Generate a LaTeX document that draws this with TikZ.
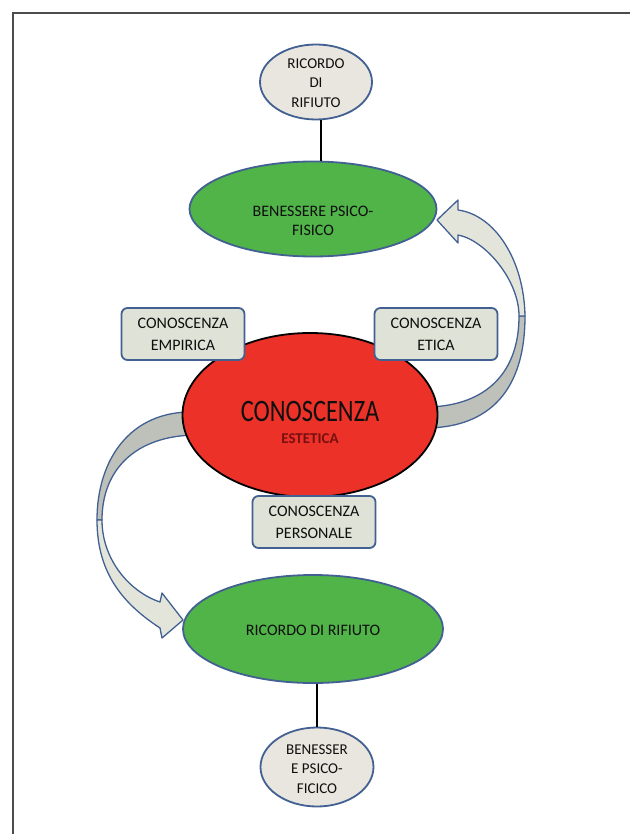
\documentclass[tikz,border=0pt]{standalone}
\usepackage{fontspec}
\setmainfont{Carlito}
\usetikzlibrary{shapes.geometric}
\definecolor{bordo}{RGB}{66,96,146}
\definecolor{verde}{RGB}{80,180,72}
\definecolor{rosso}{RGB}{236,50,40}
\definecolor{rossoscuro}{RGB}{120,16,16}
\definecolor{grigio}{RGB}{232,230,222}
\definecolor{scatola}{RGB}{223,226,214}
\definecolor{nastro}{RGB}{190,192,186}
\definecolor{nastrochiaro}{RGB}{228,229,218}
\definecolor{inchiostro}{RGB}{15,15,15}
\begin{document}
\begin{tikzpicture}[x=1pt,y=-1pt,
  ovale/.style={ellipse,draw=bordo,line width=1.8pt,inner sep=0pt},
  scatolina/.style={rectangle,rounded corners=6pt,draw=bordo,line width=1.8pt,fill=scatola,
    minimum width=123pt,minimum height=52pt,inner sep=0pt,align=center,text=inchiostro,
    font=\fontsize{16}{22}\selectfont},
  scritta/.style={align=center,text=inchiostro,inner sep=0pt,font=\fontsize{16}{19}\selectfont},
  piccola/.style={scritta,font=\fontsize{15}{19.5}\selectfont},
  freccia/.style={draw=bordo,line width=1.3pt,line join=round},
  legame/.style={line width=2.5pt,black}]
\useasboundingbox (0,0) rectangle (630,834);
\draw[line width=1.6pt,black!70] (630,13) -- (13,13) -- (13,834);
% curved arrows
\filldraw[freccia,fill=nastro] (425,428) .. controls (480,428) and (525,400) .. (525,316)
  -- (519,316) .. controls (519,378) and (480,407) .. (425,407) -- cycle;
\filldraw[freccia,fill=nastrochiaro] (525,316) .. controls (524,260) and (495,215) .. (458,210)
  -- (458,200) -- (437,220) -- (458,243) -- (458,235)
  .. controls (485,240) and (519,280) .. (519,316) -- cycle;
\filldraw[freccia,fill=nastro] (195,412) .. controls (130,410) and (97,460) .. (97,520)
  -- (102,520) .. controls (102,470) and (135,436) .. (195,435) -- cycle;
\filldraw[freccia,fill=nastrochiaro] (97,520) .. controls (97,575) and (125,605) .. (160,628)
  -- (162,638) -- (183,620) -- (162,593) -- (160,602)
  .. controls (130,592) and (102,560) .. (102,520) -- cycle;
% ellipses
\node[ovale,fill=grigio,minimum width=112pt,minimum height=75pt] (ricordosu) at (316,82) {};
\node[ovale,fill=verde,minimum width=247pt,minimum height=95pt] (benessere) at (313,209) {};
\node[ellipse,draw=black,line width=1.8pt,fill=rosso,minimum width=255pt,minimum height=164pt] (cuore) at (310,415) {};
\node[ovale,fill=verde,minimum width=260pt,minimum height=108pt] (rifiuto) at (313,629) {};
\node[ovale,fill=grigio,minimum width=113pt,minimum height=79pt] (benessergiu) at (317,767) {};
\draw[legame] ([xshift=5pt]ricordosu.south) -- ([xshift=8pt]benessere.north);
\draw[legame] ([xshift=4pt]rifiuto.south) -- (benessergiu.north);
% boxes
\node[scatolina] (empirica) at (183,334) {CONOSCENZA\\EMPIRICA};
\node[scatolina] (etica) at (436,334) {CONOSCENZA\\ETICA};
\node[scatolina] (personale) at (314,522) {CONOSCENZA\\PERSONALE};
% texts
\node[piccola] (t1) at (316,83) {RICORDO\\DI\\RIFIUTO};
\node[scritta] (t2) at (313,221) {BENESSERE PSICO-\\FISICO};
\node[scritta,font=\fontsize{26}{28}\selectfont] (t3) at (310,411) {\scalebox{0.94}[1.2]{CONOSCENZA}};
\node[scritta,text=rossoscuro,font=\fontsize{15}{18}\selectfont\bfseries] (t4) at (310,439) {ESTETICA};
\node[scritta] (t5) at (313,630) {RICORDO DI RIFIUTO};
\node[piccola] (t6) at (317,769) {BENESSER\\E PSICO-\\FICICO};
\end{tikzpicture}
\end{document}
